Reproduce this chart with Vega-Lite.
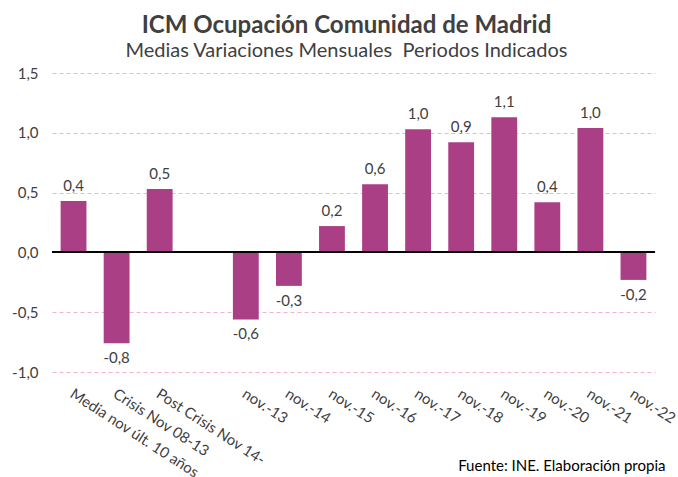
{
  "$schema": "https://vega.github.io/schema/vega-lite/v6.json",
  "width": 603,
  "height": 299,
  "autosize": {"type": "none"},
  "padding": {"left": 52, "top": 73, "right": 23, "bottom": 105},
  "background": "white",
  "config": {
    "font": "Lato",
    "view": {"stroke": null},
    "locale": {"number": {"decimal": ",", "thousands": ".", "grouping": [3], "currency": ["", " €"], "minus": "-"}}
  },
  "title": {
    "text": "ICM Ocupación Comunidad de Madrid",
    "subtitle": "Medias Variaciones Mensuales\u00a0\u00a0Periodos Indicados",
    "fontSize": 24,
    "fontWeight": "bold",
    "color": "#404040",
    "subtitleFontSize": 20,
    "subtitleColor": "#404040",
    "subtitlePadding": 3,
    "offset": 5,
    "dx": -7,
    "anchor": "middle"
  },
  "data": {
    "values": [
      {"cat": "Media nov últ. 10 años", "v": 0.43},
      {"cat": "Crisis Nov 08-13", "v": -0.76},
      {"cat": "Post Crisis Nov 14-", "v": 0.53},
      {"cat": " ", "v": null},
      {"cat": "nov.-13", "v": -0.56},
      {"cat": "nov.-14", "v": -0.28},
      {"cat": "nov.-15", "v": 0.22},
      {"cat": "nov.-16", "v": 0.57},
      {"cat": "nov.-17", "v": 1.03},
      {"cat": "nov.-18", "v": 0.92},
      {"cat": "nov.-19", "v": 1.13},
      {"cat": "nov.-20", "v": 0.42},
      {"cat": "nov.-21", "v": 1.04},
      {"cat": "nov.-22", "v": -0.23}
    ]
  },
  "encoding": {
    "x": {
      "field": "cat",
      "type": "nominal",
      "sort": null,
      "scale": {
        "domain": ["Media nov últ. 10 años", "Crisis Nov 08-13", "Post Crisis Nov 14-", " ", "nov.-13", "nov.-14", "nov.-15", "nov.-16", "nov.-17", "nov.-18", "nov.-19", "nov.-20", "nov.-21", "nov.-22"],
        "paddingInner": 0.4,
        "paddingOuter": 0.2
      },
      "axis": {
        "title": "Fuente: INE. Elaboración propia",
        "titleX": 613,
        "titleY": 98,
        "titleAnchor": "end",
        "titleAlign": "right",
        "titleBaseline": "alphabetic",
        "titleFontSize": 15,
        "titleFontWeight": "normal",
        "titleColor": "#000000",
        "labelAngle": 33,
        "labelAlign": "left",
        "labelBaseline": "top",
        "labelFontSize": 15,
        "labelColor": "#404040",
        "labelPadding": 14,
        "labelOffset": 2,
        "labelOverlap": false,
        "labelBound": false,
        "ticks": false,
        "domain": false,
        "grid": false
      }
    },
    "y": {
      "field": "v",
      "type": "quantitative",
      "scale": {"domain": [-1, 1.5], "nice": false},
      "axis": {
        "title": null,
        "values": [-1, -0.5, 0, 0.5, 1, 1.5],
        "format": ".1f",
        "labelFontSize": 15,
        "labelColor": "#404040",
        "labelPadding": 14,
        "ticks": false,
        "domain": false,
        "grid": true,
        "gridColor": "#EFB2D4",
        "gridDash": [4, 3],
        "gridWidth": 1
      }
    }
  },
  "layer": [
    {"mark": {"type": "bar", "color": "#AA3F86"}},
    {
      "mark": {"type": "rule", "color": "#000000", "strokeWidth": 1.2},
      "encoding": {"y": {"datum": 0}, "x": {"value": 0}, "x2": {"value": 603}}
    },
    {
      "transform": [{"filter": "datum.v >= 0"}],
      "mark": {"type": "text", "baseline": "bottom", "dy": -7, "fontSize": 15, "color": "#404040"},
      "encoding": {"text": {"field": "v", "type": "quantitative", "format": ".1f"}}
    },
    {
      "transform": [{"filter": "datum.v < 0"}],
      "mark": {"type": "text", "baseline": "top", "dy": 8, "fontSize": 15, "color": "#404040"},
      "encoding": {"text": {"field": "v", "type": "quantitative", "format": ".1f"}}
    }
  ]
}
